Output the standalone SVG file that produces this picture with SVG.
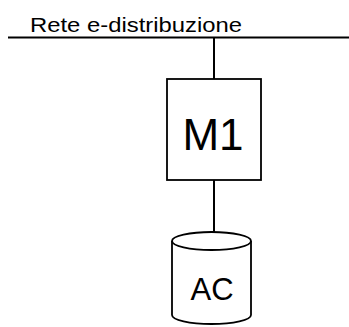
<svg xmlns="http://www.w3.org/2000/svg" width="349" height="327" viewBox="0 0 349 327">
<style>
.ln{stroke:#000;stroke-width:2;fill:none}
.nd{stroke:#000;stroke-width:1.8;fill:#fff}
text{font-family:"Liberation Sans",Arial,sans-serif;fill:#000}
</style>
<rect width="349" height="327" fill="#fff"/>
<g id="connectors">
<line class="ln" x1="8" y1="37.5" x2="349" y2="37.5"/>
<line class="ln" x1="214" y1="38" x2="214" y2="79"/>
<line class="ln" x1="214" y1="180" x2="214" y2="232"/>
</g>
<text x="30" y="31.7" font-size="21" textLength="212" lengthAdjust="spacingAndGlyphs">Rete e-distribuzione</text>
<g id="M1">
<rect class="nd" x="167" y="79" width="94" height="101"/>
<text x="213" y="149.5" font-size="44" text-anchor="middle">M1</text>
</g>
<g id="AC">
<path class="nd" d="M172,241 A39.5,9 0 0 1 251,241 L251,315 A39.5,9 0 0 1 172,315 Z"/>
<path class="nd" fill="none" d="M172,241 A39.5,9 0 0 0 251,241"/>
<text x="212" y="300" font-size="31" text-anchor="middle">AC</text>
</g>
</svg>
